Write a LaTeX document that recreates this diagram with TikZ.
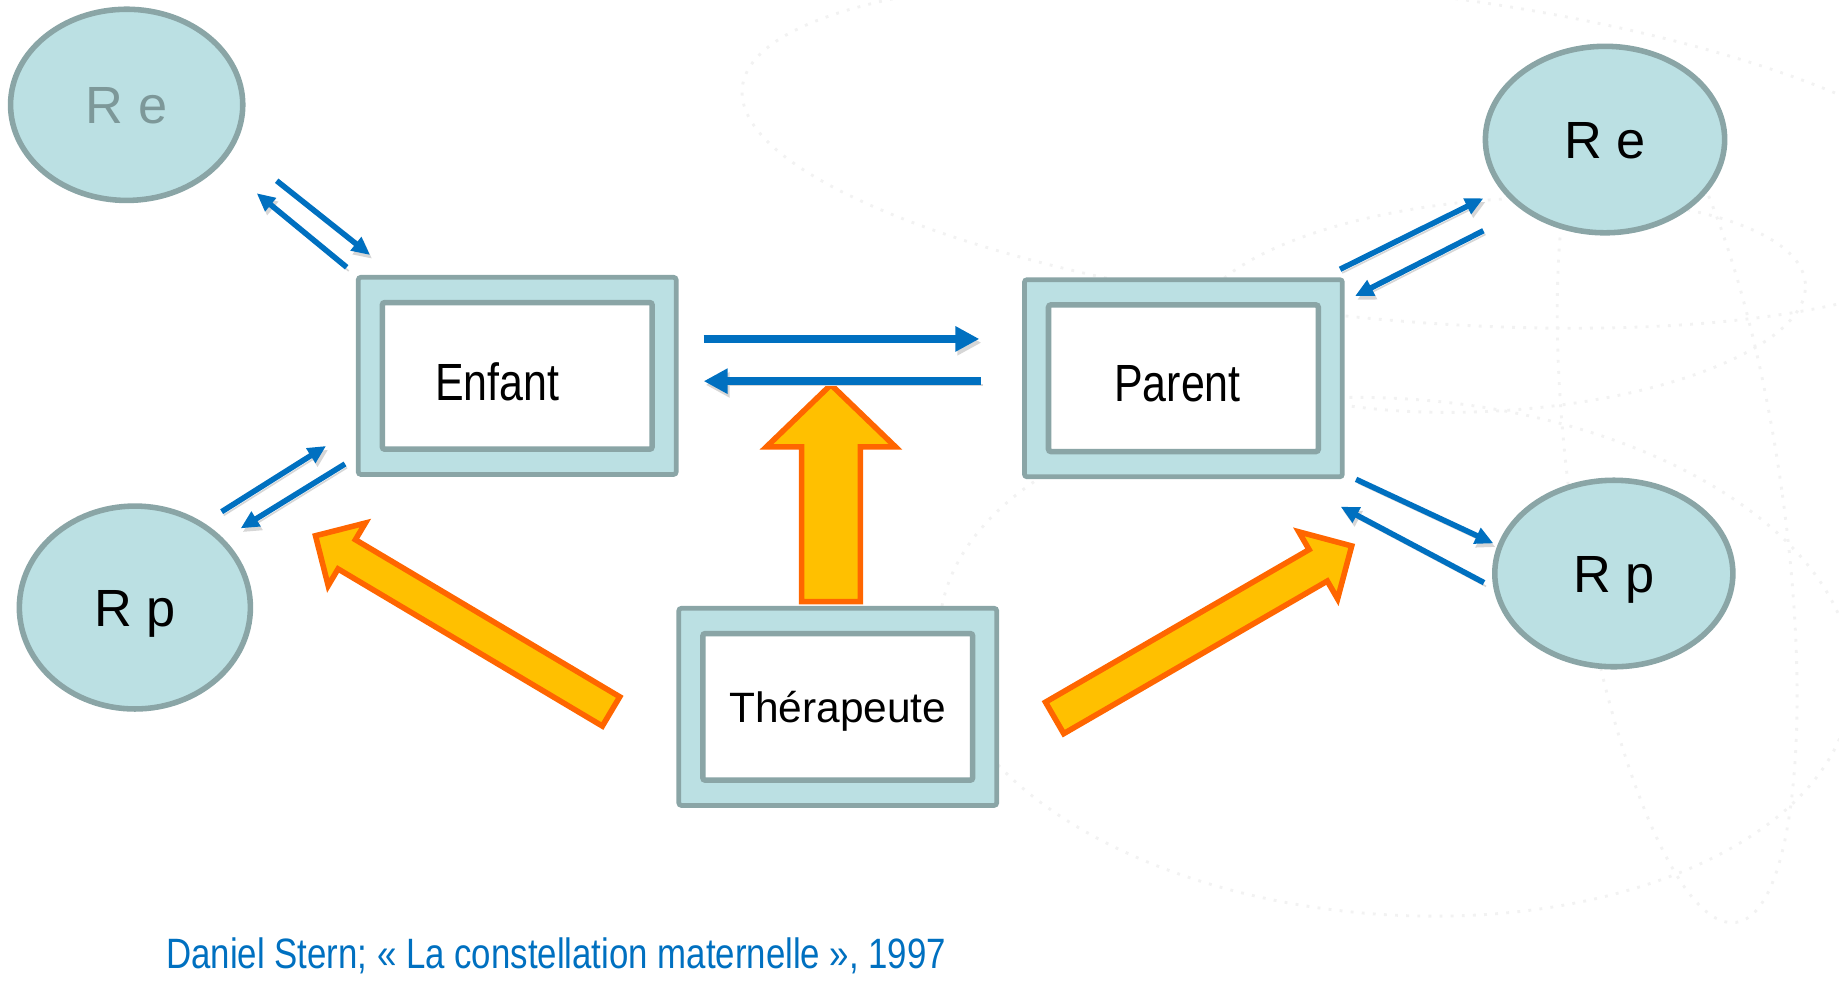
\documentclass[tikz,border=0pt]{standalone}
\usepackage{fontspec}
\setmainfont{Liberation Sans}
\newfontfamily\narrowfont[FakeStretch=0.82]{Liberation Sans}
\usepackage{xcolor}
\usepackage{tikz}
\usetikzlibrary{arrows.meta,shapes.geometric,calc}

\definecolor{boxfill}{RGB}{187,224,227}
\definecolor{boxline}{RGB}{138,165,166}
\definecolor{linkblue}{RGB}{0,112,192}
\definecolor{bigfill}{RGB}{255,192,0}
\definecolor{bigline}{RGB}{255,102,0}
\definecolor{fadetext}{RGB}{125,152,153}

% #1 queue, #2 pointe, #3 demi-largeur, #4 demi-tete, #5 longueur tete
\newcommand{\bigarrow}[5]{%
	\path ($(#2)!#5!(#1)$) coordinate (neck);
	\draw[orangearrow] ($(#1)!#3!90:(#2)$) -- ($(neck)!#3!-90:(#1)$) -- ($(neck)!#4!-90:(#1)$)
	-- (#2) -- ($(neck)!#4!90:(#1)$) -- ($(neck)!#3!90:(#1)$) -- ($(#1)!#3!-90:(#2)$) -- cycle;
}

\begin{document}
\begin{tikzpicture}[
	rep/.style={ellipse,draw=boxline,fill=boxfill,line width=1.35pt,inner sep=0pt,
		text height=9.1pt,text depth=0pt,font=\fontsize{12.7}{15}\selectfont},
	outerbox/.style={rectangle,draw=boxline,fill=boxfill,line width=1.15pt,rounded corners=0.6pt,
		minimum width=2.71cm,minimum height=1.68cm},
	innerbox/.style={rectangle,draw=boxline,fill=white,line width=1.35pt,rounded corners=0.6pt,
		minimum width=2.30cm,minimum height=1.25cm,inner sep=0pt,text height=9pt,text depth=0pt},
	link/.style={-{Triangle[length=4.4pt,width=4pt]},draw=linkblue,line width=1.35pt,
		preaction={draw=black!16,transform canvas={xshift=0.5pt,yshift=-0.9pt}}},
	biglink/.style={link,-{Triangle[length=5.8pt,width=5.8pt]},line width=1.8pt},
	orangearrow/.style={draw=bigline,fill=bigfill,line width=1.35pt},
	swirl/.style={draw=black!5,dotted,line width=0.7pt}]
	
	\useasboundingbox (0,0) rectangle (15.68,-8.38);
	
	% fond
	\draw[swirl] (11.6,-1.3) ellipse [x radius=5.3, y radius=1.4, rotate=-6];
	\draw[swirl] (12.8,-2.6) ellipse [x radius=2.6, y radius=0.9, rotate=4];
	\draw[swirl] (14.3,-4.3) ellipse [x radius=0.9, y radius=3.6, rotate=8];
	\draw[swirl] (11.9,-5.6) ellipse [x radius=3.9, y radius=2.2, rotate=-4];
	
	% representations
	\foreach \n/\x/\y/\w/\h/\t in {re1/1.08/-0.894/1.98/1.63/{\textcolor{fadetext}{R e}},
		rp1/1.15/-5.18/1.97/1.73/{R p},
		re2/13.685/-1.19/2.04/1.59/{R e},
		rp2/13.76/-4.89/2.03/1.59/{R p}}{
		\node[rep,minimum width=\w cm,minimum height=\h cm] (\n) at (\x,\y) {\t};
	}
	
	% boites
	\node[outerbox] (enfant) at (4.41,-3.205) {};
	\node[innerbox,font=\narrowfont\fontsize{12.7}{15}\selectfont] (enfantin) at (enfant.center) {\raisebox{-0.055cm}{Enfant}\hspace*{0.34cm}};
	\node[outerbox] (parent) at (10.09,-3.225) {};
	\node[innerbox,font=\narrowfont\fontsize{12.7}{15}\selectfont] (parentin) at (parent.center) {\raisebox{-0.04cm}{Parent}\hspace*{0.1cm}};
	\node[outerbox] (ther) at (7.143,-6.027) {};
	\node[innerbox,font=\fontsize{10.3}{12}\selectfont,text height=7.4pt] (therin) at (ther.center) {Thérapeute};
	
	% grosses fleches
	\coordinate (tv) at (7.085,-5.13);
	\coordinate (hv) at (7.085,-3.28);
	\coordinate (tl) at (5.21,-6.066);
	\coordinate (hl) at (2.69,-4.568);
	\coordinate (tr) at (8.992,-6.121);
	\coordinate (hr) at (11.525,-4.655);
	\bigarrow{tv}{hv}{0.25cm}{0.55cm}{0.53cm}
	\bigarrow{tl}{hl}{0.145cm}{0.31cm}{0.31cm}
	\bigarrow{tr}{hr}{0.155cm}{0.33cm}{0.33cm}
	
	% fleches bleues
	\foreach \n/\x/\y in {a1/2.359/-1.541, a2/3.155/-2.174, b1/2.956/-2.279, b2/2.189/-1.648,
		c1/1.890/-4.363, c2/2.780/-3.803, d1/2.942/-3.956, d2/2.052/-4.505,
		e1/11.426/-2.296, e2/12.648/-1.691, f1/12.648/-1.967, f2/11.554/-2.524,
		g1/11.562/-4.087, g2/12.733/-4.633, h1/12.653/-4.968, h2/11.431/-4.320}{
		\coordinate (\n) at (\x,\y);
	}
	\foreach \i in {a,b,c,d,e,f,g,h}{
		\draw[link] (\i1) -- (\i2);}
	
	\coordinate (i1) at (6.00,-2.89);
	\coordinate (i2) at (8.35,-2.89);
	\coordinate (j1) at (8.36,-3.25);
	\coordinate (j2) at (6.00,-3.25);
	\draw[biglink] (i1) -- (i2);
	\draw[biglink] (j1) -- (j2);
	
	\node[anchor=base west,inner sep=0pt,text=linkblue,font=\narrowfont\fontsize{10.3}{12}\selectfont]
	(cite) at (1.41,-8.26) {Daniel Stern; « La constellation maternelle », 1997};
\end{tikzpicture}
\end{document}
